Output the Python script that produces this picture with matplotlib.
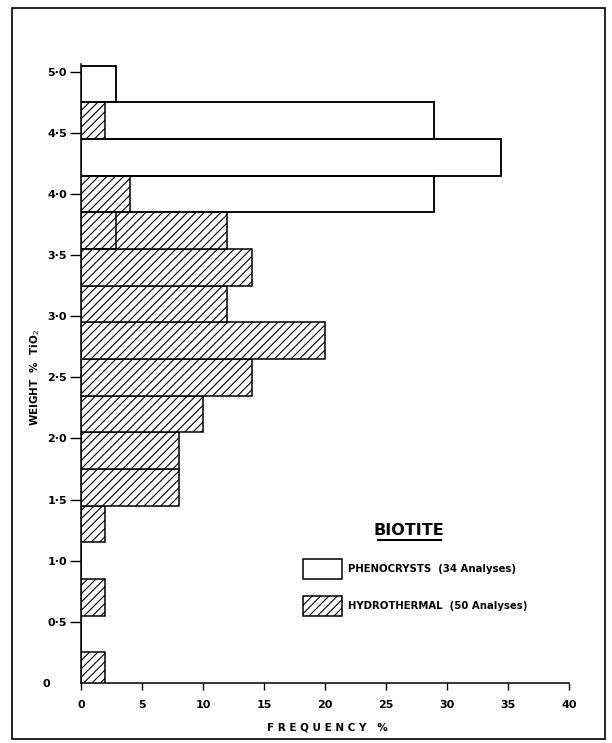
import matplotlib
matplotlib.use("Agg")
import matplotlib.pyplot as plt
from matplotlib.patches import Rectangle
from matplotlib.lines import Line2D
import numpy as np

# TiO2 classes (bin centres, weight %), width 0.3
bin_centres = [0.1, 0.4, 0.7, 1.0, 1.3, 1.6, 1.9, 2.2, 2.5, 2.8, 3.1, 3.4, 3.7, 4.0, 4.3, 4.6, 4.9]
bin_width = 0.3

# frequency %
phenocrysts = [0, 0, 0, 0, 0, 0, 0, 0, 0, 0, 0, 0, 2.9, 28.9, 34.4, 28.9, 2.9]
hydrothermal = [2, 0, 2, 0, 2, 8, 8, 10, 14, 20, 12, 14, 12, 4, 0, 2, 0]

yticks = [0, 0.5, 1.0, 1.5, 2.0, 2.5, 3.0, 3.5, 4.0, 4.5, 5.0]
ytick_labels = ["0", "0·5", "1·0", "1·5", "2·0", "2·5", "3·0", "3·5", "4·0", "4·5", "5·0"]
xticks = [0, 5, 10, 15, 20, 25, 30, 35, 40]

plt.rcParams['font.family'] = ['DejaVu Sans']
plt.rcParams['hatch.linewidth'] = 0.8

W, H = 612, 743
fig = plt.figure(figsize=(W / 100, H / 100), dpi=100)
ax = fig.add_axes([81 / W, 1 - 683 / H, 488 / W, (683 - 64.3) / H])

y = np.array(bin_centres)
# phenocrysts behind, hydrothermal on top, then phenocryst outlines again
ax.barh(y, phenocrysts, height=bin_width, color="white", edgecolor="black", linewidth=1.1, zorder=1)
ax.barh(y, hydrothermal, height=bin_width, color="white", edgecolor="black", linewidth=1.1,
        hatch="////", zorder=2)
ax.barh(y, phenocrysts, height=bin_width, fill=False, edgecolor="black", linewidth=1.1, zorder=3)

ax.set_xlim(0, 40)
ax.set_ylim(0, 5.06)
ax.set_xticks(xticks)
ax.set_yticks(yticks, ytick_labels)
ax.spines["top"].set_visible(False)
ax.spines["right"].set_visible(False)
ax.spines["left"].set_linewidth(1.1)
ax.spines["bottom"].set_linewidth(1.1)
ax.tick_params(axis="y", length=8, width=1.0, pad=2, labelsize=8)
ax.tick_params(axis="x", length=5, width=1.0, pad=7, labelsize=8)
ax.yaxis.get_major_ticks()[0].tick1line.set_visible(False)
ax.yaxis.get_major_ticks()[0].set_pad(14)
for lab in ax.get_xticklabels() + ax.get_yticklabels():
    lab.set_fontweight("bold")

fig.text(35 / W, 1 - 378 / H, "WEIGHT  %  TiO$_2$", rotation=90, ha="center", va="center",
         fontsize=7.5, fontweight="bold")
fig.text(327 / W, 1 - 728 / H, "F R E Q U E N C Y   %", ha="center", va="center",
         fontsize=7.5, fontweight="bold")

# legend
ax.text(0.672, 0.246, "BIOTITE", transform=ax.transAxes, ha="center", va="center",
        fontsize=11.5, fontweight="bold")
ax.add_line(Line2D([0.608, 0.737], [0.231, 0.231], transform=ax.transAxes, color="black",
                   linewidth=1.5, clip_on=False))
ax.add_patch(Rectangle((0.455, 0.168), 0.080, 0.032, transform=ax.transAxes, facecolor="white",
                       edgecolor="black", linewidth=1.1, clip_on=False))
ax.add_patch(Rectangle((0.455, 0.108), 0.080, 0.033, transform=ax.transAxes, facecolor="white",
                       edgecolor="black", linewidth=1.1, hatch="////", clip_on=False))
ax.text(0.547, 0.184, "PHENOCRYSTS  (34 Analyses)", transform=ax.transAxes, ha="left", va="center",
        fontsize=7.3, fontweight="bold")
ax.text(0.547, 0.124, "HYDROTHERMAL  (50 Analyses)", transform=ax.transAxes, ha="left", va="center",
        fontsize=7.3, fontweight="bold")

# page frame
fig.add_artist(Rectangle((12 / W, 1 - 739 / H), (605 - 12) / W, (739 - 8) / H,
                         transform=fig.transFigure, fill=False, edgecolor="black", linewidth=1.2))

fig.savefig("out.png", dpi=100)
